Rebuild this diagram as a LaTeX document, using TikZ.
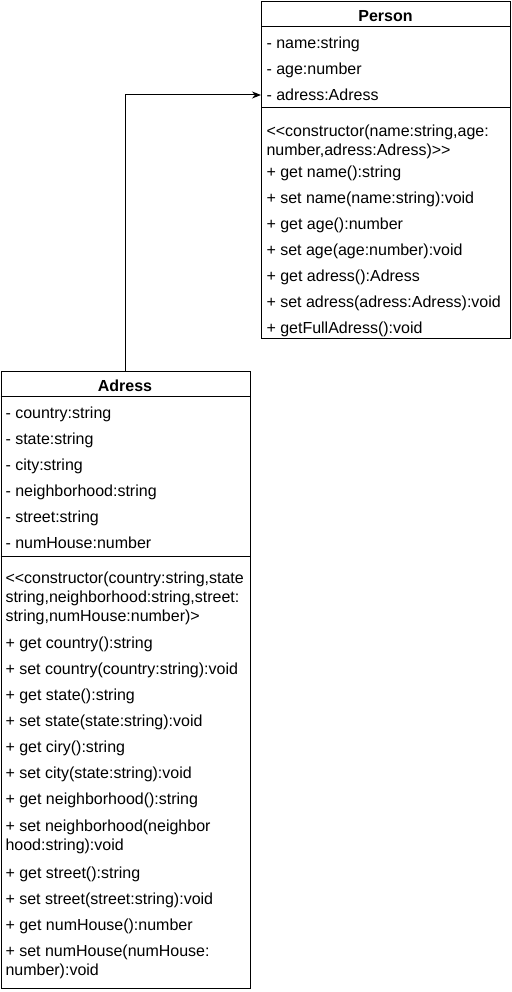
\documentclass[tikz,border=0pt]{standalone}
\usepackage{fontspec}
\setmainfont{Liberation Sans}
\usetikzlibrary{arrows.meta}

\begin{document}
\begin{tikzpicture}[x=1pt, y=-1pt, line width=1pt,
	class box/.style={draw, anchor=north west, inner sep=0pt},
	class name/.style={font=\fontsize{16}{19}\selectfont\bfseries},
	member/.style={anchor=west, inner sep=0pt, text height=11.5pt, text depth=0pt,
		font=\fontsize{16}{19}\selectfont},
	long member/.style={anchor=north west, inner sep=0pt, align=left,
		font=\fontsize{16}{19}\selectfont}]
	
	\useasboundingbox (0,0) rectangle (511,992);
	
	% class Person
	\node[class box, minimum width=249pt, minimum height=337pt] (person) at (261,1) {};
	\node[class name] (personname) at (385.5,16) {Person};
	\draw (person.west |- 0,27) -- (person.east |- 0,27);
	\draw (person.west |- 0,108) -- (person.east |- 0,108);
	\foreach \txt [count=\i] in {- name:string, - age:number, - adress:Adress}
	\node[member] (pattr\i) at (266,17+26*\i) {\txt};
	\node[long member] (pctor) at (266,124) {<{}<constructor(name:string,age:\\number,adress:Adress)>{}>};
	\foreach \txt [count=\i] in {+ get name():string, + set name(name:string):void,
		+ get age():number, + set age(age:number):void, + get adress():Adress,
		+ set adress(adress:Adress):void, + getFullAdress():void}
	\node[member] (pop\i) at (266,146+26*\i) {\txt};
	
	% class Adress
	\node[class box, minimum width=249pt, minimum height=617pt] (adress) at (0.5,370.5) {};
	\node[class name] (adressname) at (125,385.5) {Adress};
	\draw (adress.west |- 0,396.5) -- (adress.east |- 0,396.5);
	\draw (adress.west |- 0,556) -- (adress.east |- 0,556);
	\foreach \txt [count=\i] in {- country:string, - state:string, - city:string,
		- neighborhood:string, - street:string, - numHouse:number}
	\node[member] (aattr\i) at (5,386.5+26*\i) {\txt};
	\node[long member] (actor) at (5,571) {<{}<constructor(country:string,state\\string,neighborhood:string,street:\\string,numHouse:number)>};
	\foreach \txt [count=\i] in {+ get country():string, + set country(country:string):void,
		+ get state():string, + set state(state:string):void, + get ciry():string,
		+ set city(state:string):void, + get neighborhood():string}
	\node[member] (aop\i) at (5,617+26*\i) {\txt};
	\node[long member] (aop8) at (5,819) {+ set neighborhood(neighbor\\hood:string):void};
	\foreach \txt [count=\i from 9] in {+ get street():string, + set street(street:string):void,
		+ get numHouse():number}
	\node[member] (aop\i) at (5,639+26*\i) {\txt};
	\node[long member] (aop12) at (5,944) {+ set numHouse(numHouse:\\number):void};
	
	% association
	\draw[-{Stealth[length=9pt,width=7pt]}] (adress.north) |- (pattr3.west -| person.west);
\end{tikzpicture}
\end{document}
